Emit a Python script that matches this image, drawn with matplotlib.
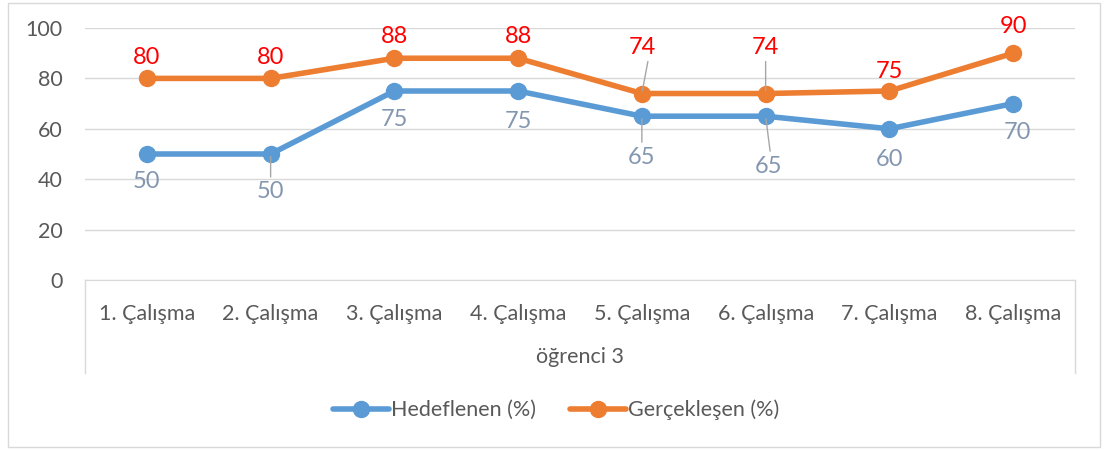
import matplotlib.pyplot as plt
from matplotlib.patches import Rectangle
from matplotlib.lines import Line2D

plt.rcParams['font.family'] = ['Lato', 'DejaVu Sans']

categories = ['1. Çalışma', '2. Çalışma', '3. Çalışma', '4. Çalışma',
              '5. Çalışma', '6. Çalışma', '7. Çalışma', '8. Çalışma']
group_label = 'öğrenci 3'
hedef = [50, 50, 75, 75, 65, 65, 60, 70]
gercek = [80, 80, 88, 88, 74, 74, 75, 90]
y_ticks = [0, 20, 40, 60, 80, 100]

# label offsets in pixels (dx, dy), leader line flag
gercek_off = [(0, 21, False), (0, 21, False), (0, 22, False), (0, 22, False),
              (0, 46, True), (0, 46, True), (0, 20, False), (0, 27, False)]
hedef_off = [(0, -28, False), (0, -38, True), (0, -29, False), (0, -31, False),
             (0, -41, True), (3, -50, True), (0, -31, False), (4, -29, False)]

W, H = 1105, 450
fig = plt.figure(figsize=(W / 100, H / 100), dpi=100)
ax = fig.add_axes([85 / W, (H - 280) / H, 990 / W, 252 / H])

blue = '#5B9BD5'
orange = '#ED7D31'
x = list(range(len(categories)))

ax.plot(x, hedef, color=blue, lw=4, marker='o', ms=11.5, label='Hedeflenen (%)',
        solid_capstyle='round', zorder=3)
ax.plot(x, gercek, color=orange, lw=4, marker='o', ms=11.5, label='Gerçekleşen (%)',
        solid_capstyle='round', zorder=3)

for i, v in enumerate(gercek):
    dx, dy, lead = gercek_off[i]
    ax.annotate(str(v), (i, v), xytext=(dx, dy), textcoords='offset pixels',
                ha='center', va='center', color='#FF0000', fontsize=17)
    if lead:
        ax.annotate('', (i, v), xytext=((6 if i == 4 else 0), dy - 14),
                    textcoords='offset pixels',
                    arrowprops=dict(arrowstyle='-', color='#A6A6A6', lw=1,
                                    shrinkA=0, shrinkB=2))
for i, v in enumerate(hedef):
    dx, dy, lead = hedef_off[i]
    ax.annotate(str(v), (i, v), xytext=(dx, dy), textcoords='offset pixels',
                ha='center', va='center', color='#8497B0', fontsize=17)
    if lead:
        ax.annotate('', (i, v), xytext=(dx * 1.5, dy + 15), textcoords='offset pixels',
                    arrowprops=dict(arrowstyle='-', color='#A6A6A6', lw=1,
                                    shrinkA=0, shrinkB=2))

ax.set_xlim(-0.5, len(categories) - 0.5)
ax.set_ylim(0, 100)
ax.set_yticks(y_ticks)
ax.grid(axis='y', color='#D9D9D9', lw=1)
ax.set_axisbelow(True)
for s in ['top', 'right', 'left']:
    ax.spines[s].set_visible(False)
ax.spines['bottom'].set_color('#D9D9D9')
ax.set_xticks(x)
ax.set_xticklabels(categories)
ax.tick_params(axis='both', length=0, labelsize=15.5, colors='#595959')
ax.tick_params(axis='x', pad=17)
ax.tick_params(axis='y', pad=16)

# category group box
for xa in (0, 1):
    ax.add_line(Line2D([xa, xa], [0, -93 / 252], transform=ax.transAxes,
                       color='#D9D9D9', lw=1, clip_on=False))
fig.text(580 / W, 1 - 357 / H, group_label, ha='center', va='center',
         fontsize=15.5, color='#595959')

fig.legend(loc='center', bbox_to_anchor=(556 / W, 1 - 410 / H), ncol=2,
           frameon=False, fontsize=15.5, handlelength=2.6, columnspacing=1.6,
           handletextpad=0.1, labelcolor='#595959')

fig.patches.append(Rectangle((8 / W, 3 / H), 1092 / W, 444 / H, transform=fig.transFigure,
                             fill=False, edgecolor='#D9D9D9', lw=1))

fig.savefig('out.png', dpi=100)
